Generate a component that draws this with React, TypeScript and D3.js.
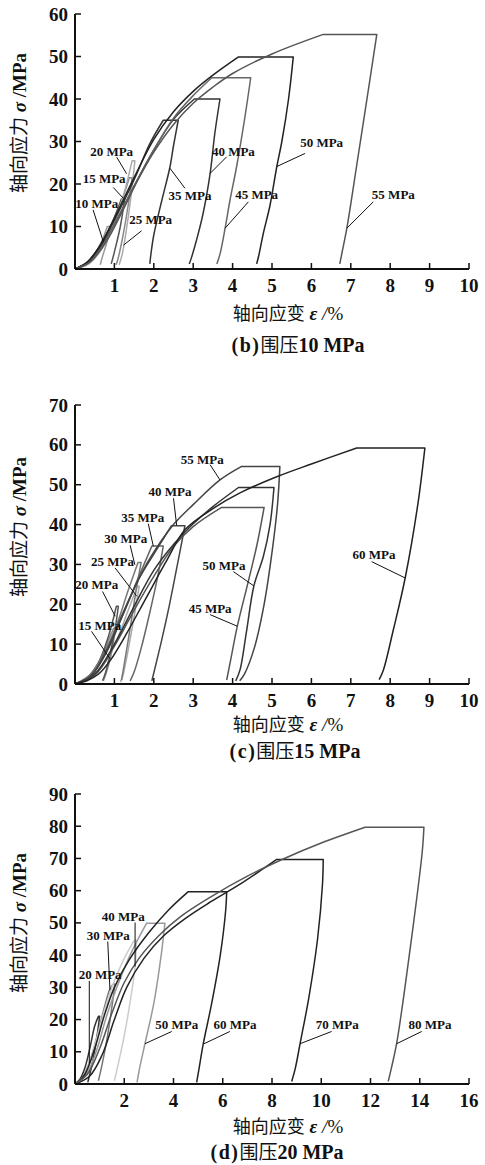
import React from "react";
import * as d3 from "d3";

type Pt = [number, number];

// (b) 围压10 MPa
const bNames = ["10 MPa", "15 MPa", "20 MPa", "25 MPa", "35 MPa", "40 MPa", "45 MPa", "50 MPa", "55 MPa"];
const bLoading: Pt[][] = [
  [[0, 0], [0.25, 1], [0.5, 3.5], [0.7, 7], [0.82, 10]],
  [[0, 0], [0.3, 1.5], [0.6, 5], [0.9, 10], [1.18, 16.5]],
  [[0, 0], [0.3, 1.2], [0.6, 4.5], [0.9, 9.5], [1.15, 15], [1.38, 21.5]],
  [[0, 0], [0.35, 1.2], [0.7, 5], [1.0, 11], [1.25, 18], [1.45, 25.5]],
  [[0, 0], [0.3, 1.5], [0.6, 4.8], [1.0, 11.5], [1.5, 21], [1.9, 29.5], [2.24, 35]],
  [[0, 0], [0.35, 1.8], [0.7, 5.8], [1.0, 10.5], [1.5, 19.5], [2, 28], [2.5, 35.2], [3.03, 40]],
  [[0, 0], [0.35, 1.5], [0.7, 5.5], [1.0, 10.5], [1.5, 19.5], [2, 28], [2.5, 35.5], [3, 40.8], [3.47, 45]],
  [[0, 0], [0.3, 1.5], [0.6, 5], [1, 12], [1.5, 21.5], [2, 30.5], [2.5, 37], [3, 41.8], [3.5, 45.6], [4.15, 49.9]],
  [[0, 0], [0.4, 1.8], [0.8, 6.5], [1.2, 13.5], [1.6, 21], [2, 27.5], [2.5, 34], [3, 39], [3.5, 42.8], [4, 46], [5, 50.6], [6.3, 55.2]],
];
const bUnloading: Pt[][] = [
  [[0.9, 10], [0.8, 6], [0.7, 3], [0.64, 1]],
  [[1.26, 16.5], [1.15, 10], [1.0, 4], [0.92, 1.2]],
  [[1.45, 21.5], [1.35, 15], [1.2, 7], [1.08, 2], [1.04, 1]],
  [[1.52, 25.5], [1.42, 17], [1.3, 9], [1.2, 3.5], [1.12, 1]],
  [[2.62, 35], [2.5, 29], [2.41, 24], [2.2, 16], [2.0, 8], [1.92, 3], [1.9, 1.2]],
  [[3.68, 40], [3.55, 32], [3.43, 22.5], [3.25, 13], [3.09, 7], [2.95, 2.5], [2.9, 1.2]],
  [[4.46, 45], [4.3, 35], [4.1, 24], [3.93, 16], [3.81, 9.6], [3.68, 3.5], [3.6, 1.2]],
  [[5.54, 49.9], [5.42, 40], [5.25, 30], [5.12, 24], [4.95, 15], [4.78, 8.4], [4.66, 3], [4.61, 1.2]],
  [[7.66, 55.2], [7.41, 40], [7.16, 25], [6.9, 9.6], [6.78, 4], [6.72, 1.2]],
];
// label centre, leader start, leader end (strain %, stress MPa)
const bNotes: number[][] = [
  [0.55, 15.5, 0.46, 13.9, 0.72, 6.4],
  [0.74, 21.3, 0.97, 19.2, 1.23, 16.6],
  [0.93, 27.6, 1.06, 26.3, 1.31, 22.4],
  [1.92, 11.7, 1.69, 9.0, 1.23, 5.6],
  [2.92, 17.4, 2.79, 19.0, 2.41, 23.7],
  [4.02, 27.6, 3.85, 26.4, 3.43, 22.5],
  [4.61, 17.6, 4.4, 15.8, 3.81, 9.6],
  [6.26, 29.7, 5.84, 27.2, 5.12, 24.1],
  [8.08, 17.6, 7.57, 15.8, 6.9, 9.6],
];
const bShades = ["#999", "#555", "#888", "#aaa", "#333", "#333", "#666", "#222", "#555"];
const bStrainTicks = [1, 2, 3, 4, 5, 6, 7, 8, 9, 10];
const bStressTicks = [0, 10, 20, 30, 40, 50, 60];

// (c) 围压15 MPa
const cNames = ["15 MPa", "20 MPa", "25 MPa", "30 MPa", "35 MPa", "40 MPa", "45 MPa", "50 MPa", "55 MPa", "60 MPa"];
const cLoading: Pt[][] = [
  [[0, 0], [0.3, 1.5], [0.6, 5], [0.85, 11], [0.98, 14]],
  [[0, 0], [0.3, 1.5], [0.6, 5.5], [0.85, 12], [1.05, 19.5]],
  [[0, 0], [0.4, 1.5], [0.8, 6], [1.1, 12], [1.35, 18.5], [1.58, 24.5]],
  [[0, 0], [0.4, 2.5], [0.8, 9], [1.1, 16], [1.35, 23.5], [1.6, 30.5]],
  [[0, 0], [0.4, 2], [0.8, 8], [1.2, 17], [1.6, 26.5], [1.95, 34.6]],
  [[0, 0], [0.4, 2], [0.8, 8], [1.2, 17], [1.6, 26], [2.0, 32.6], [2.45, 39.7]],
  [[0, 0], [0.5, 2.2], [1, 9.5], [1.5, 18.5], [2, 27], [2.5, 34.5], [3, 39.5], [3.72, 44.3]],
  [[0, 0], [0.5, 2.5], [1, 10], [1.5, 19.5], [2, 28.5], [2.5, 35], [3, 40.2], [3.5, 44.5], [4.15, 49.3]],
  [[0, 0], [0.4, 2], [0.8, 8.5], [1.2, 17.5], [1.6, 26], [1.9, 31.5], [2.5, 40], [3, 45], [3.68, 51.2], [4.23, 54.6]],
  [[0, 0], [0.3, 0.8], [0.6, 2.5], [0.9, 6], [1.3, 12.5], [1.8, 21.5], [2.3, 30.5], [2.8, 38.8], [3.5, 44], [4.2, 48], [5.12, 52], [6, 55.2], [7.15, 59.2]],
];
const cUnloading: Pt[][] = [
  [[1.03, 14], [0.95, 9], [0.89, 6.2], [0.8, 3], [0.72, 0.8]],
  [[1.1, 19.5], [1.02, 14], [0.9, 8], [0.78, 3], [0.7, 0.8]],
  [[1.63, 24.5], [1.57, 21], [1.45, 14], [1.3, 6], [1.2, 1.5], [1.15, 0.5]],
  [[1.68, 30.5], [1.56, 24], [1.4, 14], [1.25, 5], [1.18, 1]],
  [[2.24, 34.6], [2.1, 27], [1.9, 18], [1.68, 9], [1.5, 3], [1.4, 0.8]],
  [[2.79, 39.7], [2.6, 30], [2.4, 20], [2.2, 11], [2.03, 4], [1.95, 0.8]],
  [[4.8, 44.3], [4.62, 35], [4.38, 25], [4.12, 14.5], [3.95, 6], [3.85, 1]],
  [[5.05, 49.3], [4.95, 40], [4.78, 32], [4.54, 24.6], [4.35, 13], [4.19, 3.6], [4.08, 0.8]],
  [[5.2, 54.6], [5.14, 45], [5.0, 33], [4.8, 20], [4.55, 9], [4.3, 2.5], [4.18, 0.8]],
  [[8.88, 59.2], [8.7, 45], [8.38, 26.6], [8.08, 13.6], [7.83, 3.6], [7.72, 1.1]],
];
const cNotes: number[][] = [
  [0.63, 14.6, 0.42, 13.2, 0.89, 6.3],
  [0.55, 24.9, 0.7, 23.2, 1.02, 17],
  [0.95, 30.7, 1.02, 29.1, 1.57, 22],
  [1.29, 36.4, 1.4, 34.8, 1.52, 29.9],
  [1.72, 41.8, 1.86, 40.2, 1.99, 34.5],
  [2.41, 48.3, 2.5, 46.6, 2.58, 39.8],
  [3.43, 19, 3.43, 17.4, 4.12, 14.5],
  [3.78, 29.7, 4.02, 28.2, 4.54, 24.6],
  [3.23, 56.4, 3.43, 55, 3.68, 51.2],
  [7.59, 32.4, 7.53, 30.7, 8.38, 26.6],
];
const cShades = ["#888", "#555", "#aaa", "#777", "#666", "#444", "#555", "#333", "#444", "#222"];
const cStrainTicks = [1, 2, 3, 4, 5, 6, 7, 8, 9, 10];
const cStressTicks = [0, 10, 20, 30, 40, 50, 60, 70];

// (d) 围压20 MPa
const dNames = ["20 MPa", "30 MPa", "40 MPa", "50 MPa", "60 MPa", "70 MPa", "80 MPa"];
const dLoading: Pt[][] = [
  [[0, 0], [0.2, 1.5], [0.4, 5], [0.6, 11], [0.8, 18], [0.95, 21]],
  [[0, 0], [0.3, 2], [0.6, 7], [0.9, 15], [1.2, 24], [1.42, 29.5], [1.55, 31]],
  [[0, 0], [0.4, 3], [0.8, 12], [1.2, 23], [1.6, 32], [2.0, 39], [2.4, 44.5]],
  [[0, 0], [0.5, 3.5], [0.9, 11], [1.3, 21.5], [1.8, 32], [2.3, 41], [2.91, 49.9]],
  [[0, 0], [0.4, 3], [0.8, 11], [1.2, 21.5], [1.6, 30], [2.2, 38.5], [3, 47], [3.8, 54], [4.6, 59.7]],
  [[0, 0], [0.6, 2.5], [1.1, 9], [1.6, 20], [2.1, 30], [2.8, 39], [3.6, 46], [4.5, 51.5], [5.5, 56.5], [6.8, 62.5], [8.19, 69.7]],
  [[0, 0], [0.5, 3], [1, 11], [1.5, 22], [2, 31.5], [2.6, 39], [3.4, 46], [4.3, 52], [5.5, 58], [7, 64.5], [8.5, 70], [10, 74.8], [11.78, 79.7]],
];
const dUnloading: Pt[][] = [
  [[1.0, 21], [0.88, 14], [0.72, 7], [0.6, 3], [0.52, 0.5]],
  [[1.62, 31], [1.5, 24], [1.3, 14], [1.1, 6], [0.95, 1]],
  [[2.5, 44.5], [2.44, 36.5], [2.25, 26], [2.0, 15], [1.75, 6], [1.6, 1]],
  [[3.65, 49.9], [3.5, 40], [3.2, 25], [2.84, 12.5], [2.6, 4], [2.52, 0.5]],
  [[6.16, 59.7], [6.12, 54], [5.9, 40], [5.55, 25], [5.21, 12.5], [5.02, 4], [4.94, 0.5]],
  [[10.08, 69.7], [10.05, 62], [9.85, 45], [9.5, 27], [9.14, 12.5], [8.95, 5], [8.8, 0.8]],
  [[14.17, 79.7], [14.1, 72], [13.75, 50], [13.4, 30], [13.06, 12.5], [12.85, 5], [12.72, 0.8]],
];
const dNotes: number[][] = [
  [1.02, 33.9, 0.58, 32, 0.58, 6.5],
  [1.35, 46.1, 1.33, 44.2, 1.42, 29.2],
  [1.96, 52, 2.44, 50.1, 2.44, 36.5],
  [4.13, 18.4, 3.93, 16.3, 2.84, 12.5],
  [6.5, 18.4, 6.29, 16.3, 5.24, 12.5],
  [10.65, 18.4, 10.42, 16.3, 9.14, 12.5],
  [14.42, 18.4, 14.08, 16.3, 13.06, 12.5],
];
const dShades = ["#333", "#777", "#ccc", "#999", "#222", "#222", "#555"];
const dStrainTicks = [2, 4, 6, 8, 10, 12, 14, 16];
const dStressTicks = [0, 10, 20, 30, 40, 50, 60, 70, 80, 90];

const SERIF = "'Liberation Serif', 'Times New Roman', 'Noto Sans CJK SC', serif";
const CJK = "'Noto Sans CJK SC', 'Liberation Serif', sans-serif";

type PanelProps = {
  names: string[];
  loading: Pt[][];
  unloading: Pt[][];
  notes: number[][];
  shades: string[];
  strainTicks: number[];
  stressTicks: number[];
  top: number;
  bottom: number;
  yTitleY: number;
  xTitleY: number;
  captionY: number;
  captionX: number;
  tag: string;
  pressure: string;
};

function Panel(p: PanelProps) {
  const x = d3.scaleLinear().domain([0, p.strainTicks[p.strainTicks.length - 1]]).range([75, 469]);
  const y = d3.scaleLinear().domain([0, p.stressTicks[p.stressTicks.length - 1]]).range([p.bottom, p.top]);
  const line = d3
    .line<Pt>()
    .x((d) => x(d[0]))
    .y((d) => y(d[1]))
    .curve(d3.curveCatmullRom.alpha(0.5));

  return (
    <g>
      {p.loading.map((ld, i) => {
        const path = (line(ld) ?? "") + (line(p.unloading[i]) ?? "").replace(/^M/, "L");
        return <path key={i} d={path} fill="none" stroke={p.shades[i]} strokeWidth={1.5} strokeLinejoin="round" />;
      })}

      {/* axes */}
      <line x1={x(0)} x2={x.range()[1]} y1={p.bottom} y2={p.bottom} stroke="#111" strokeWidth={2} />
      <line x1={x(0)} x2={x(0)} y1={p.bottom} y2={p.top} stroke="#111" strokeWidth={2} />
      {p.strainTicks.map((t) => (
        <g key={t}>
          <line x1={x(t)} x2={x(t)} y1={p.bottom} y2={p.bottom - 6} stroke="#111" strokeWidth={1.5} />
          <text x={x(t)} y={p.bottom + 22.5} textAnchor="middle" fontFamily={SERIF} fontWeight="bold" fontSize={19} fill="#111">
            {t}
          </text>
        </g>
      ))}
      {p.stressTicks.map((t) => (
        <g key={t}>
          <line x1={x(0)} x2={x(0) + 6} y1={y(t)} y2={y(t)} stroke="#111" strokeWidth={1.5} />
          <text x={68} y={y(t) + 6.5} textAnchor="end" fontFamily={SERIF} fontWeight="bold" fontSize={19} fill="#111">
            {t}
          </text>
        </g>
      ))}

      {/* labels */}
      {p.notes.map((n, i) => (
        <g key={i}>
          <line x1={x(n[2])} y1={y(n[3])} x2={x(n[4])} y2={y(n[5])} stroke="#111" strokeWidth={1} />
          <text x={x(n[0])} y={y(n[1]) + 4.5} textAnchor="middle" fontFamily={SERIF} fontWeight="bold" fontSize={13} fill="#111">
            {p.names[i]}
          </text>
        </g>
      ))}

      <text
        transform={`translate(26,${p.yTitleY}) rotate(-90)`}
        textAnchor="middle"
        fontSize={19}
        fill="#111"
        fontFamily={CJK}
      >
        轴向应力
        <tspan fontFamily={SERIF} fontStyle="italic" fontWeight="bold"> σ</tspan>
        <tspan fontFamily={SERIF} fontWeight="bold"> /MPa</tspan>
      </text>
      <text x={288} y={p.xTitleY} textAnchor="middle" fontSize={18} fill="#111" fontFamily={CJK}>
        轴向应变
        <tspan fontFamily={SERIF} fontStyle="italic" fontWeight="bold" fontSize={19}> ε</tspan>
        <tspan fontFamily={SERIF} fontStyle="italic" fontSize={19}> /</tspan>
        <tspan fontFamily={SERIF} fontSize={19}>%</tspan>
      </text>
      <text x={p.captionX} y={p.captionY} textAnchor="middle" fontSize={20} fill="#111" fontFamily={SERIF}>
        <tspan fontWeight="bold" letterSpacing={1.5}>{`(${p.tag})`}</tspan>
        <tspan fontFamily={CJK} fontSize={19}>围压</tspan>
        <tspan fontWeight="bold">{p.pressure}</tspan>
      </text>
    </g>
  );
}

export default function App() {
  return (
    <svg
      width={485}
      height={1165}
      viewBox="0 0 485 1165"
      style={{ position: "absolute", left: 0, top: 0, background: "#fff" }}
    >
      <rect width={485} height={1165} fill="#fff" />
      <Panel
        names={bNames}
        loading={bLoading}
        unloading={bUnloading}
        notes={bNotes}
        shades={bShades}
        strainTicks={bStrainTicks}
        stressTicks={bStressTicks}
        top={14}
        bottom={269}
        yTitleY={123}
        xTitleY={320}
        captionY={352}
        captionX={298}
        tag="b"
        pressure="10 MPa"
      />
      <Panel
        names={cNames}
        loading={cLoading}
        unloading={cUnloading}
        notes={cNotes}
        shades={cShades}
        strainTicks={cStrainTicks}
        stressTicks={cStressTicks}
        top={405}
        bottom={684}
        yTitleY={527}
        xTitleY={730.5}
        captionY={758}
        captionX={295}
        tag="c"
        pressure="15 MPa"
      />
      <Panel
        names={dNames}
        loading={dLoading}
        unloading={dUnloading}
        notes={dNotes}
        shades={dShades}
        strainTicks={dStrainTicks}
        stressTicks={dStressTicks}
        top={794}
        bottom={1084}
        yTitleY={923}
        xTitleY={1133}
        captionY={1159}
        captionX={277}
        tag="d"
        pressure="20 MPa"
      />
    </svg>
  );
}
